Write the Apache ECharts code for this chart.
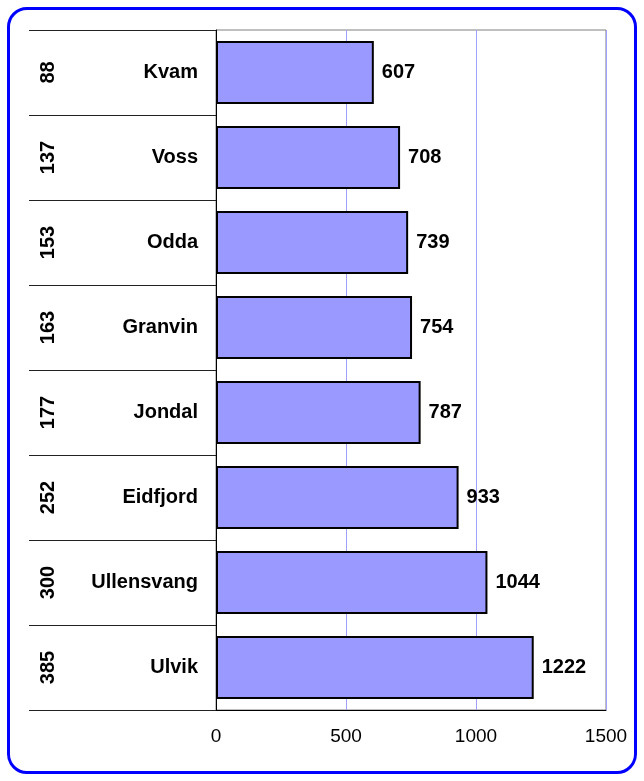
<!DOCTYPE html>
<html>
<head>
<meta charset="utf-8">
<script src="https://cdn.jsdelivr.net/npm/echarts@6/dist/echarts.min.js"></script>
<style>
  html, body { margin: 0; padding: 0; background: #fff; }
  #frame {
    position: absolute; left: 7px; top: 7px; width: 624px; height: 761px;
    border: 3px solid #0000ff; border-radius: 20px;
  }
  #main { position: absolute; left: 0; top: 0; width: 644px; height: 781px; }
</style>
</head>
<body>
<div id="frame"></div>
<div id="main"></div>
<script>
// kommunar, tal og verdiar
const names = ['Kvam', 'Voss', 'Odda', 'Granvin', 'Jondal', 'Eidfjord', 'Ullensvang', 'Ulvik']
const counts = [88, 137, 153, 163, 177, 252, 300, 385]
const values = [607, 708, 739, 754, 787, 933, 1044, 1222]

const font = '"Liberation Sans", Arial, sans-serif'

const myChart = echarts.init(document.getElementById('main'), null, { renderer: 'canvas' })

const option = {
  animation: false,
  grid: {
    left: 216,
    right: 38,
    top: 30,
    bottom: 71,
    show: true,
    borderColor: '#808080',
    borderWidth: 1,
  },
  xAxis: {
    type: 'value',
    min: 0,
    max: 1500,
    interval: 500,
    axisLine: { show: true, lineStyle: { color: '#000', width: 1 } },
    axisTick: { show: false },
    axisLabel: {
      color: '#000',
      fontFamily: font,
      fontSize: 19,
      margin: 17,
      formatter: (v) => String(v),
    },
    splitLine: { show: true, lineStyle: { color: '#a0a0ff', width: 1 } },
  },
  yAxis: [
    {
      type: 'category',
      data: names,
      inverse: true,
      position: 'left',
      axisLine: { show: true, lineStyle: { color: '#000', width: 1 } },
      axisTick: {
        // skiljelinjer mellom kategoriane
        show: true,
        length: 187,
        lineStyle: { color: '#222', width: 1 },
      },
      axisLabel: {
        color: '#000',
        fontFamily: font,
        fontWeight: 'bold',
        fontSize: 20,
        margin: 18,
      },
    },
    {
      type: 'category',
      data: counts,
      inverse: true,
      position: 'left',
      offset: 150,
      axisLine: { show: false },
      axisTick: { show: false },
      axisLabel: {
        color: '#000',
        fontFamily: font,
        fontWeight: 'bold',
        fontSize: 20,
        rotate: 90,
        margin: 8,
      },
    },
  ],
  series: [
    {
      type: 'bar',
      data: values,
      yAxisIndex: 0,
      barCategoryGap: '26%',
      itemStyle: { color: '#9999ff', borderColor: '#000', borderWidth: 2 },
      label: {
        show: true,
        position: 'right',
        distance: 8,
        color: '#000',
        fontFamily: font,
        fontWeight: 'bold',
        fontSize: 20,
      },
    },
  ],
}

myChart.setOption(option)
</script>
</body>
</html>
